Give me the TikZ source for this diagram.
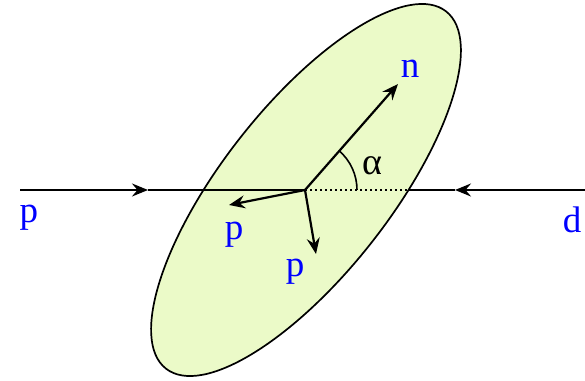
\documentclass[tikz,border=0pt]{standalone}
\usepackage{fontspec}
\setmainfont{Liberation Serif}
\usetikzlibrary{arrows.meta,calc}
\definecolor{blatt}{RGB}{235,250,200}
\begin{document}
\begin{tikzpicture}[x=1pt, y=1pt,
	fascio/.style={line width=2.2pt, black},
	vett/.style={line width=2.2pt, black, -{Stealth[length=16pt, width=13pt, inset=5.5pt]}},
	punta/.style={line width=2.2pt, black, -{Stealth[length=16pt, width=13pt, inset=5.5pt]}},
	etich/.style={text=blue, font=\fontsize{37}{40}\selectfont, inner sep=0pt},
	]
	\useasboundingbox (0,0) rectangle (585,380);
	%% disco
	\draw[line width=1.7pt, fill=blatt] (306,190) ellipse[x radius=227, y radius=84, rotate=51.9];
	%% punti
	\coordinate (O) at (305,190);
	\coordinate (L) at (20,190);
	\coordinate (R) at (585,190);
	\coordinate (aL) at (148,190);
	\coordinate (aR) at (455,190);
	\coordinate (E) at (408,190);
	\coordinate (n) at (398,296);
	\coordinate (p1) at (229,175);
	\coordinate (p2) at (316,126);
	%% fasci entranti
	\draw[punta] (L) -- (aL);
	\draw[fascio] (aL) -- (O);
	\draw[punta] (R) -- (aR);
	\draw[fascio] (aR) -- (E);
	\draw[line width=1.8pt, dash pattern=on 2pt off 3pt] (O) -- (E);
	%% prodotti
	\draw[vett] (O) -- (n);
	\draw[vett] (O) -- (p1);
	\draw[vett] (O) -- (p2);
	%% angolo
	\draw[line width=1.6pt] ($(O)+(52,0)$) arc[start angle=0, end angle=48.8, radius=52];
	\node[inner sep=0pt, font=\fontsize{38}{40}\selectfont] (alfa) at (372,214) {α};
	%% etichette
	\node[etich] (tn) at (410,311) {n};
	\node[etich] (tp1) at (234,145) {p};
	\node[etich] (tp2) at (295,108) {p};
	\node[etich] (tpL) at (29,162) {p};
	\node[etich] (td) at (572,160) {d};
\end{tikzpicture}
\end{document}
